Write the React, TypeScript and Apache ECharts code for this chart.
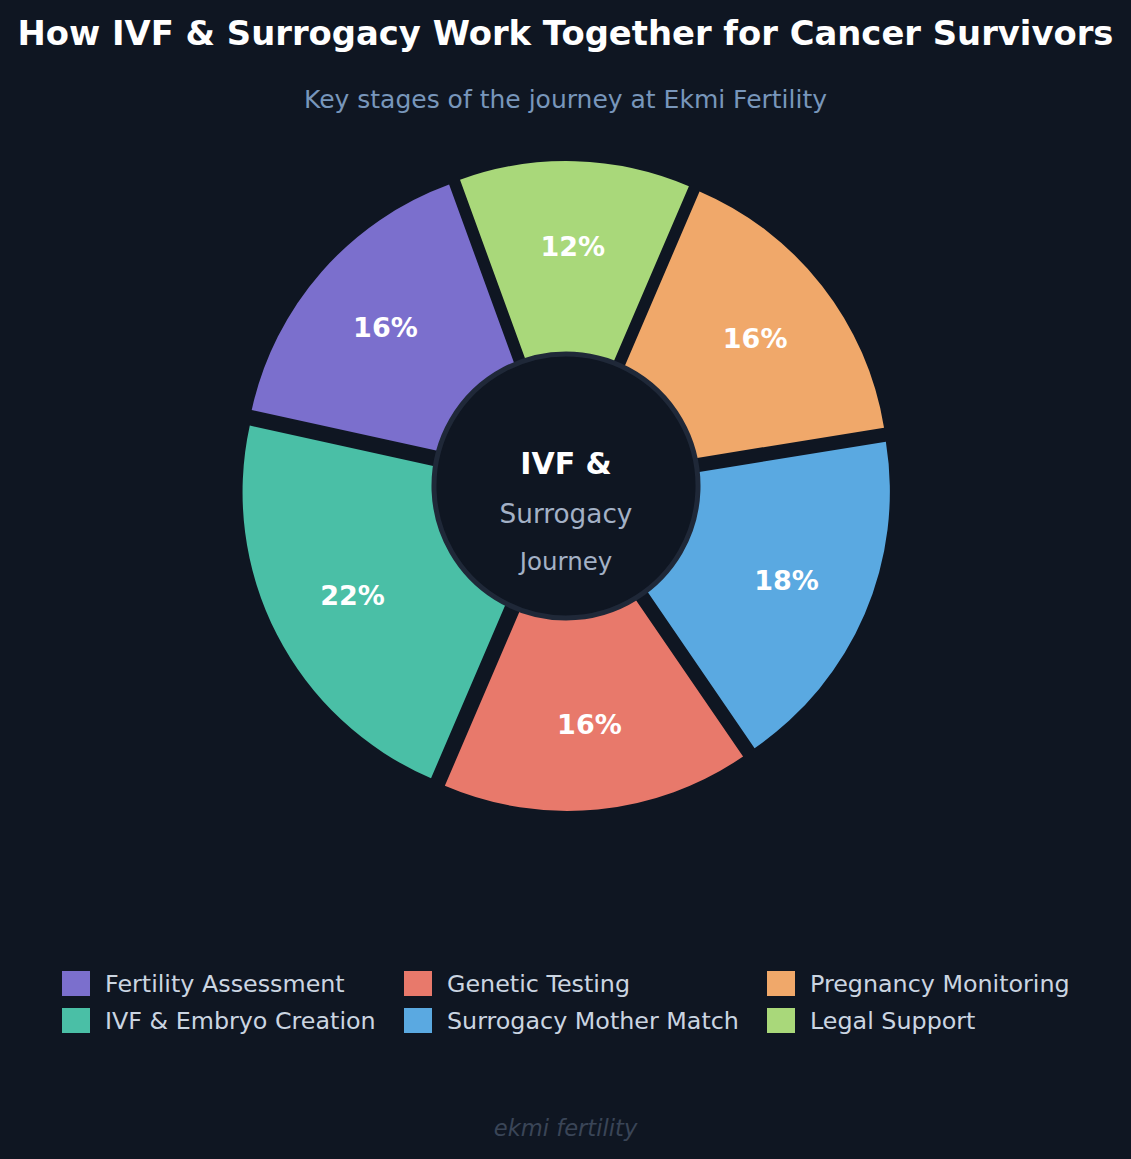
import React, { useEffect, useRef } from 'react';
import * as echarts from 'echarts';

const stages = [
  'Fertility Assessment',
  'IVF & Embryo Creation',
  'Genetic Testing',
  'Surrogacy Mother Match',
  'Pregnancy Monitoring',
  'Legal Support',
];
const shares = [16, 22, 16, 18, 16, 12];
const colors = ['#7b6fcd', '#4abfa6', '#e8796b', '#5aa9e1', '#f0a86a', '#a9d87a'];
const centerLines = ['IVF &', 'Surrogacy', 'Journey'];

const bg = '#0f1622';
const font = '"DejaVu Sans", Verdana, sans-serif';

const App: React.FC = () => {
  const chartRef = useRef<HTMLDivElement>(null);

  useEffect(() => {
    if (!chartRef.current) return;
    document.body.style.margin = '0';
    const chart = echarts.init(chartRef.current, undefined, { renderer: 'svg' });

    const pieData = stages.map((name, i) => ({
      name,
      value: shares[i],
      selected: true,
      itemStyle: { color: colors[i] },
    }));

    const legendCol = (names: string[], left: number) => ({
      orient: 'vertical' as const,
      left,
      top: 971,
      padding: 0,
      icon: 'rect',
      itemWidth: 28,
      itemHeight: 25,
      itemGap: 12,
      selectedMode: false,
      data: names,
      textStyle: {
        color: '#cbd5e1',
        fontSize: 23.8,
        fontFamily: font,
        lineHeight: 25,
        padding: [0, 0, 0, 10],
      },
    });

    const option: echarts.EChartsOption = {
      animation: false,
      backgroundColor: bg,
      title: [
        {
          text: 'How IVF & Surrogacy Work Together for Cancer Survivors',
          left: 'center',
          top: 13,
          padding: 0,
          textStyle: { color: '#ffffff', fontSize: 33.8, fontWeight: 'bold', fontFamily: font, lineHeight: 40 },
        },
        {
          text: 'Key stages of the journey at Ekmi Fertility',
          left: 'center',
          top: 84,
          padding: 0,
          textStyle: { color: '#7896bb', fontSize: 25, fontWeight: 'normal', fontFamily: font, lineHeight: 30 },
        },
        {
          text: 'ekmi fertility',
          left: 'center',
          top: 1114,
          padding: 0,
          textStyle: { color: '#3a4557', fontSize: 22.6, fontStyle: 'italic', fontWeight: 'normal', fontFamily: font, lineHeight: 28 },
        },
      ],
      legend: [
        legendCol([stages[0], stages[1]], 62),
        legendCol([stages[2], stages[3]], 404),
        legendCol([stages[4], stages[5]], 767),
      ],
      series: [
        {
          type: 'pie',
          name: 'stages',
          center: [566, 486],
          radius: [100, 311],
          startAngle: 110,
          clockwise: false,
          selectedMode: 'multiple',
          selectedOffset: 14,
          silent: true,
          avoidLabelOverlap: false,
          label: { show: false },
          labelLine: { show: false },
          emphasis: { disabled: true },
          data: pieData,
          z: 2,
        },
        {
          type: 'pie',
          name: 'labels',
          center: [566, 486],
          radius: [166, 280],
          startAngle: 110,
          clockwise: false,
          selectedMode: 'multiple',
          selectedOffset: 14,
          silent: true,
          avoidLabelOverlap: false,
          itemStyle: { color: 'rgba(0,0,0,0)' },
          label: {
            show: true,
            position: 'inside',
            formatter: '{c}%',
            color: '#ffffff',
            fontSize: 27,
            fontWeight: 'bold',
            fontFamily: font,
          },
          labelLine: { show: false },
          emphasis: { disabled: true },
          data: stages.map((name, i) => ({ name, value: shares[i], selected: true, itemStyle: { color: 'rgba(0,0,0,0)' } })),
          z: 3,
        },
        {
          type: 'pie',
          name: 'center',
          center: [566, 486],
          radius: [0, 132],
          silent: true,
          label: { show: false },
          labelLine: { show: false },
          emphasis: { disabled: true },
          itemStyle: { color: bg, borderColor: '#1f2838', borderWidth: 5 },
          data: [{ value: 1, name: 'hub' }],
          z: 4,
        },
      ],
      graphic: [
        {
          type: 'text',
          x: 566,
          y: 463,
          z: 100,
          style: {
            text: centerLines[0],
            fill: '#ffffff',
            fontSize: 30,
            fontWeight: 'bold',
            fontFamily: font,
            textAlign: 'center',
            verticalAlign: 'middle',
          },
        },
        {
          type: 'text',
          x: 566,
          y: 514,
          z: 100,
          style: {
            text: centerLines[1],
            fill: '#a3b1c6',
            fontSize: 26.3,
            fontFamily: font,
            textAlign: 'center',
            verticalAlign: 'middle',
          },
        },
        {
          type: 'text',
          x: 566,
          y: 561,
          z: 100,
          style: {
            text: centerLines[2],
            fill: '#a3b1c6',
            fontSize: 24.5,
            fontFamily: font,
            textAlign: 'center',
            verticalAlign: 'middle',
          },
        },
      ],
    };

    chart.setOption(option);

    const handleResize = () => chart.resize();
    window.addEventListener('resize', handleResize);
    return () => {
      window.removeEventListener('resize', handleResize);
      chart.dispose();
    };
  }, []);

  return <div ref={chartRef} style={{ width: '1131px', height: '1159px' }} />;
};

export default App;
